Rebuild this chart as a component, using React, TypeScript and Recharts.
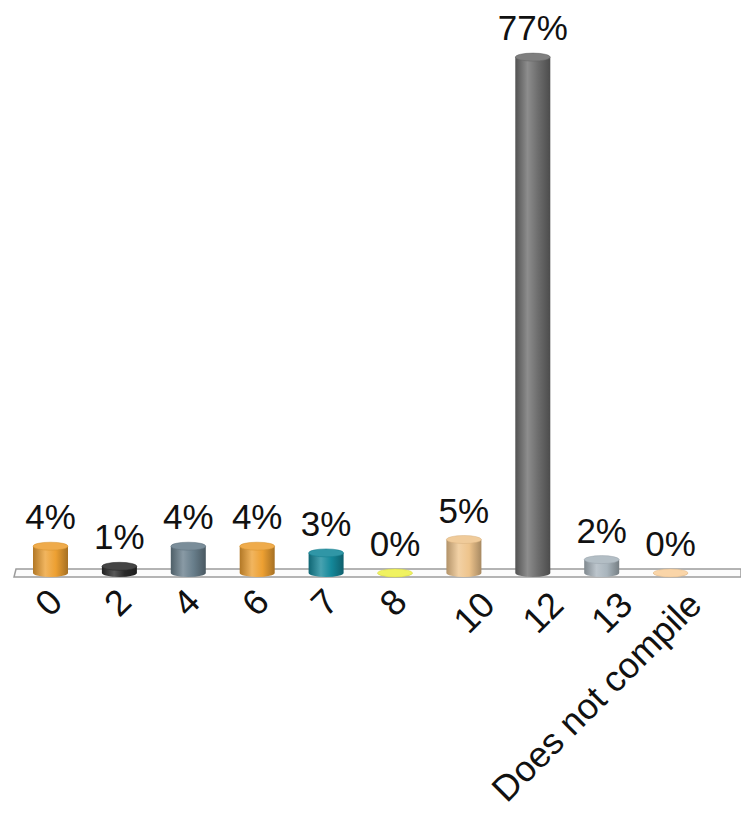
import * as R from 'recharts';

const { BarChart, Bar, XAxis, YAxis } = R;

// marks per category (percentage of answers)
const categories = ['0', '2', '4', '6', '7', '8', '10', '12', '13', 'Does not compile'];
const shares = [4, 1, 4, 4, 3, 0, 5, 77, 2, 0];

const barColors = [
    '#eda032', '#2a2a2a', '#687e8b', '#eda032', '#14889a',
    '#eef04a', '#eec48c', '#6d6d6d', '#a9b5bd', '#f9cf9c',
];

const data = categories.map((name, i) => ({ name, value: shares[i] }));

const FONT = '"Liberation Sans", Arial, sans-serif';

function mix(hex: string, target: number, t: number) {
    const n = parseInt(hex.slice(1), 16);
    const ch = [(n >> 16) & 255, (n >> 8) & 255, n & 255].map((c) => Math.round(c + (target - c) * t));
    return '#' + ch.map((c) => c.toString(16).padStart(2, '0')).join('');
}

function Cylinder(props: any) {
    const { x, y, width, height, index } = props;
    const ry = 4;
    const cx = x + width / 2;
    const rx = width / 2;
    const bottom = y + height;
    const base = barColors[index];
    return (
        <g>
            <path
                d={`M${x},${y} L${x},${bottom} A${rx},${ry} 0 0 0 ${x + width},${bottom} L${x + width},${y} Z`}
                fill={`url(#cyl-${index})`}
            />
            <ellipse cx={cx} cy={y} rx={rx} ry={ry} fill={mix(base, 255, 0.12)} stroke={mix(base, 0, 0.1)} strokeWidth={0.5} />
        </g>
    );
}

function Floor() {
    const area = (R as any).usePlotArea?.();
    const w = (R as any).useChartWidth?.();
    if (!area) return null;
    const y0 = area.y + area.height;
    const left = area.x - 2;
    const right = w ?? area.x + area.width + 36;
    return (
        <polygon
            points={`${left + 2},${y0 - 4} ${right},${y0 - 4} ${right},${y0 + 4} ${left},${y0 + 4}`}
            fill="#fbfbfb"
            stroke="#9c9c9c"
            strokeWidth={1.5}
        />
    );
}

function Tick({ x, y, payload }: any) {
    const s = String(payload.value);
    const multi = s.length > 1;
    const ax = x + (multi ? 33 : 14);
    const ay = y + (multi ? 34 : 31);
    return (
        <text
            x={ax}
            y={ay}
            transform={`rotate(-45 ${ax} ${ay})`}
            textAnchor="end"
            fontSize={36}
            fontFamily={FONT}
            fill="#111"
        >
            {s}
        </text>
    );
}

export default function App() {
    return (
        <div style={{ position: 'absolute', left: 0, top: 0, width: 741, height: 816, background: '#fff' }}>
            <BarChart
                width={741}
                height={816}
                data={data}
                margin={{ top: 37, right: 36, left: 16, bottom: 0 }}
            >
                <defs>
                    {barColors.map((c, i) => (
                        <linearGradient key={i} id={`cyl-${i}`} x1="0" y1="0" x2="1" y2="0">
                            <stop offset="0%" stopColor={mix(c, 0, 0.25)} />
                            <stop offset="35%" stopColor={mix(c, 255, 0.22)} />
                            <stop offset="65%" stopColor={c} />
                            <stop offset="100%" stopColor={mix(c, 0, 0.3)} />
                        </linearGradient>
                    ))}
                </defs>
                <Floor />
                <XAxis
                    dataKey="name"
                    interval={0}
                    axisLine={false}
                    tickLine={false}
                    tickSize={0}
                    tickMargin={0}
                    height={243}
                    tick={<Tick />}
                />
                <YAxis hide domain={[0, 80]} />
                <Bar
                    dataKey="value"
                    barSize={35}
                    shape={<Cylinder />}
                    isAnimationActive={false}
                    label={{
                        position: 'top',
                        offset: 17,
                        fontSize: 35,
                        fontFamily: FONT,
                        fill: '#111',
                        formatter: (v: any) => `${v}%`,
                    }}
                />
            </BarChart>
        </div>
    );
}
